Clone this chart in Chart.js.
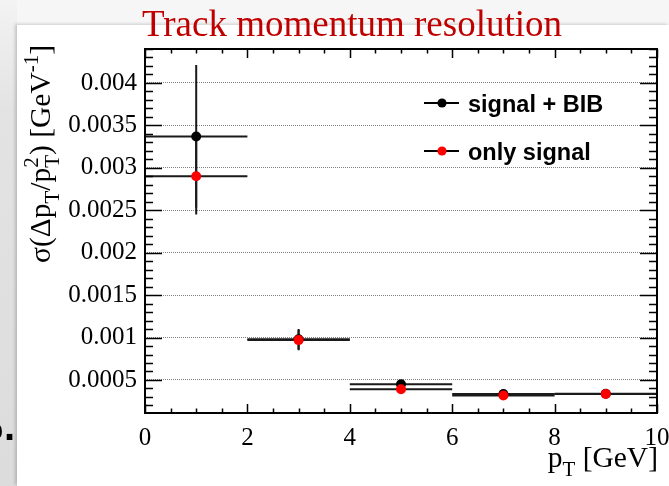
<!DOCTYPE html>
<html>
<head>
<meta charset="utf-8">
<title>Track momentum resolution</title>
<script src="https://cdn.jsdelivr.net/npm/chart.js@4.4.1/dist/chart.umd.min.js"></script>
<style>
  html, body { margin: 0; padding: 0; }
  body { width: 669px; height: 486px; position: relative; overflow: hidden; background: #f6f6f6; }
  #strip { position: absolute; left: 0; top: 0; width: 17px; height: 486px;
           background: linear-gradient(to bottom, #f3f3f3 0px, #e3e3e3 110px, #dcdcdc 100%); }
  #panel { position: absolute; left: 17px; top: 25px; right: 0; bottom: 0; background: #fff;
           box-shadow: -2px -1px 3px rgba(0, 0, 0, 0.18); }
  #wrap { position: absolute; left: 0; top: 0; width: 669px; height: 486px; }
</style>
</head>
<body>
<div id="strip"></div>
<div id="panel"></div>
<div id="wrap"><canvas id="chart"></canvas></div>
<script>
// pT bins [GeV]: centres and half widths
const binCentres = [1, 3, 5, 7, 9];
const binHalfWidths = [1, 1, 1, 1, 1];

// sigma(dpT/pT^2) [GeV^-1] per bin
const signalBib = [0.00337, 0.00098, 0.00045, 0.000335, 0.000338];
const signalBibErr = [0.00084, 0.00012, 0.00002, 0.00001, 0.00001];
const onlySignal = [0.0029, 0.00097, 0.00039, 0.000317, 0.000334];
const onlySignalErr = [0.00045, 0.00012, 0.00002, 0.00001, 0.00001];

// axis ticks
const xTicks = [0, 2, 4, 6, 8, 10];
const yTicks = [0.0005, 0.001, 0.0015, 0.002, 0.0025, 0.003, 0.0035, 0.004];
const yTickLabels = ['0.0005', '0.001', '0.0015', '0.002', '0.0025', '0.003', '0.0035', '0.004'];

const SERIF = '"Liberation Serif", "Times New Roman", serif';
const SANS = '"Liberation Sans", Arial, sans-serif';

function toPoints(vals, errs) {
    return binCentres.map((x, i) => ({ x: x, y: vals[i], xErr: binHalfWidths[i], yErr: errs[i] }));
}

// draws a row of text pieces (sub/superscripts) starting at 0,0
function drawRuns(ctx, runs) {
    let cx = 0;
    runs.forEach(r => {
        ctx.font = r.size + 'px ' + SERIF;
        ctx.fillText(r.t, cx, r.dy || 0);
        if (!r.stack) cx += ctx.measureText(r.t).width;
    });
    return cx;
}
function runsWidth(ctx, runs) {
    let w = 0;
    runs.forEach(r => {
        ctx.font = r.size + 'px ' + SERIF;
        if (!r.stack) w += ctx.measureText(r.t).width;
    });
    return w;
}

// ROOT style error crosses, drawn below the markers
const errorBars = {
    id: 'errorBars',
    beforeDatasetsDraw(chart) {
        const { ctx, chartArea, scales: { x, y } } = chart;
        ctx.save();
        ctx.beginPath();
        ctx.rect(chartArea.left, chartArea.top, chartArea.right - chartArea.left, chartArea.bottom - chartArea.top);
        ctx.clip();
        ctx.strokeStyle = '#1a1a1a';
        ctx.lineWidth = 2;
        chart.data.datasets.forEach(ds => {
            ds.data.forEach(p => {
                const px = x.getPixelForValue(p.x);
                const py = y.getPixelForValue(p.y);
                ctx.beginPath();
                ctx.moveTo(x.getPixelForValue(p.x - p.xErr), py);
                ctx.lineTo(x.getPixelForValue(p.x + p.xErr), py);
                ctx.moveTo(px, y.getPixelForValue(p.y + p.yErr));
                ctx.lineTo(px, y.getPixelForValue(p.y - p.yErr));
                ctx.stroke();
            });
        });
        ctx.restore();
    }
};

// frame, inward ticks, titles and legend
const decorations = {
    id: 'decorations',
    afterDraw(chart) {
        const { ctx, chartArea: a, scales: { x, y } } = chart;
        ctx.save();

        // frame
        ctx.strokeStyle = '#000';
        ctx.lineWidth = 2;
        ctx.strokeRect(a.left, a.top, a.right - a.left, a.bottom - a.top);

        // ticks
        ctx.lineWidth = 1.5;
        ctx.beginPath();
        for (let k = 1; k <= 44; k++) {
            const v = k * 0.0001;
            if (v < y.min || v > y.max) continue;
            const len = k % 5 === 0 ? 17 : 8;
            const py = Math.round(y.getPixelForValue(v)) + 0.5;
            ctx.moveTo(a.left, py); ctx.lineTo(a.left + len, py);
            ctx.moveTo(a.right, py); ctx.lineTo(a.right - len, py);
        }
        for (let k = 0; k <= 20; k++) {
            const len = k % 4 === 0 ? 9 : 4.5;
            const px = Math.round(x.getPixelForValue(k * 0.5)) + 0.5;
            ctx.moveTo(px, a.bottom); ctx.lineTo(px, a.bottom - len);
            ctx.moveTo(px, a.top); ctx.lineTo(px, a.top + len);
        }
        ctx.stroke();

        // title
        ctx.fillStyle = '#c00000';
        ctx.textAlign = 'left';
        ctx.textBaseline = 'alphabetic';
        ctx.font = '37px ' + SERIF;
        ctx.fillText('Track momentum resolution', 142, 36);

        // axis titles
        ctx.fillStyle = '#000';
        const F = 29.5, S = 21;
        const xRuns = [
            { t: 'p', size: F }, { t: 'T', size: S, dy: 9 }, { t: ' [GeV]', size: F }
        ];
        ctx.save();
        ctx.translate(a.right + 1 - runsWidth(ctx, xRuns), 467);
        drawRuns(ctx, xRuns);
        ctx.restore();

        const yRuns = [
            { t: 'σ(Δp', size: F }, { t: 'T', size: S, dy: 9 }, { t: '/p', size: F },
            { t: '2', size: S, dy: -12, stack: true }, { t: 'T', size: S, dy: 9 },
            { t: ') [GeV', size: F }, { t: '-1', size: S, dy: -12 }, { t: ']', size: F }
        ];
        ctx.save();
        ctx.translate(50, 263);
        ctx.rotate(-Math.PI / 2);
        drawRuns(ctx, yRuns);
        ctx.restore();

        // legend
        const rows = [
            { label: chart.data.datasets[0].label, color: '#000', y: 103 },
            { label: chart.data.datasets[1].label, color: '#ff0000', y: 151 }
        ];
        rows.forEach(r => {
            ctx.strokeStyle = '#000';
            ctx.lineWidth = 2;
            ctx.beginPath();
            ctx.moveTo(424, r.y); ctx.lineTo(459, r.y);
            ctx.stroke();
            ctx.fillStyle = r.color;
            ctx.beginPath();
            ctx.arc(442, r.y, 4.6, 0, Math.PI * 2);
            ctx.fill();
            ctx.fillStyle = '#000';
            ctx.font = 'bold 23.5px ' + SANS;
            ctx.fillText(r.label, 468, r.y + 8.5);
        });

        // slide text cut at the left edge
        ctx.font = 'bold 28px ' + SANS;
        ctx.fillText('p', -14, 439);
        ctx.font = 'bold 40px ' + SANS;
        ctx.fillText('.', 4, 440);

        ctx.restore();
    }
};

new Chart(document.getElementById('chart'), {
    type: 'scatter',
    data: {
        datasets: [
            {
                label: 'signal + BIB',
                data: toPoints(signalBib, signalBibErr),
                pointBackgroundColor: '#000',
                pointBorderColor: '#000',
                pointBorderWidth: 0,
                pointRadius: 5,
                order: 1
            },
            {
                label: 'only signal',
                data: toPoints(onlySignal, onlySignalErr),
                pointBackgroundColor: '#ff0000',
                pointBorderColor: '#ff0000',
                pointBorderWidth: 0,
                pointRadius: 5,
                order: 0
            }
        ]
    },
    options: {
        responsive: true,
        maintainAspectRatio: false,
        animation: false,
        layout: { padding: { top: 49, right: 12, left: 0, bottom: 0 } },
        plugins: {
            legend: { display: false },
            tooltip: { enabled: false },
            title: { display: false }
        },
        scales: {
            x: {
                type: 'linear',
                min: 0,
                max: 10,
                afterBuildTicks: s => { s.ticks = xTicks.map(v => ({ value: v })); },
                afterFit: s => { s.height = 73; s.paddingLeft = 0; s.paddingRight = 0; },
                grid: { display: false, drawTicks: false },
                border: { display: false },
                ticks: {
                    font: { family: SERIF, size: 25 },
                    color: '#000',
                    padding: 10,
                    maxRotation: 0,
                    autoSkip: false
                }
            },
            y: {
                type: 'linear',
                min: 0.000111,
                max: 0.0044,
                afterBuildTicks: s => { s.ticks = yTicks.map(v => ({ value: v })); },
                afterFit: s => { s.width = 145; s.paddingTop = 0; s.paddingBottom = 0; },
                grid: { color: '#808080', lineWidth: 1, drawTicks: false },
                border: { display: false, dash: [1, 1] },
                ticks: {
                    font: { family: SERIF, size: 25 },
                    color: '#000',
                    padding: 8,
                    autoSkip: false,
                    callback: (v, i) => yTickLabels[i]
                }
            }
        }
    },
    plugins: [errorBars, decorations]
});
</script>
</body>
</html>
